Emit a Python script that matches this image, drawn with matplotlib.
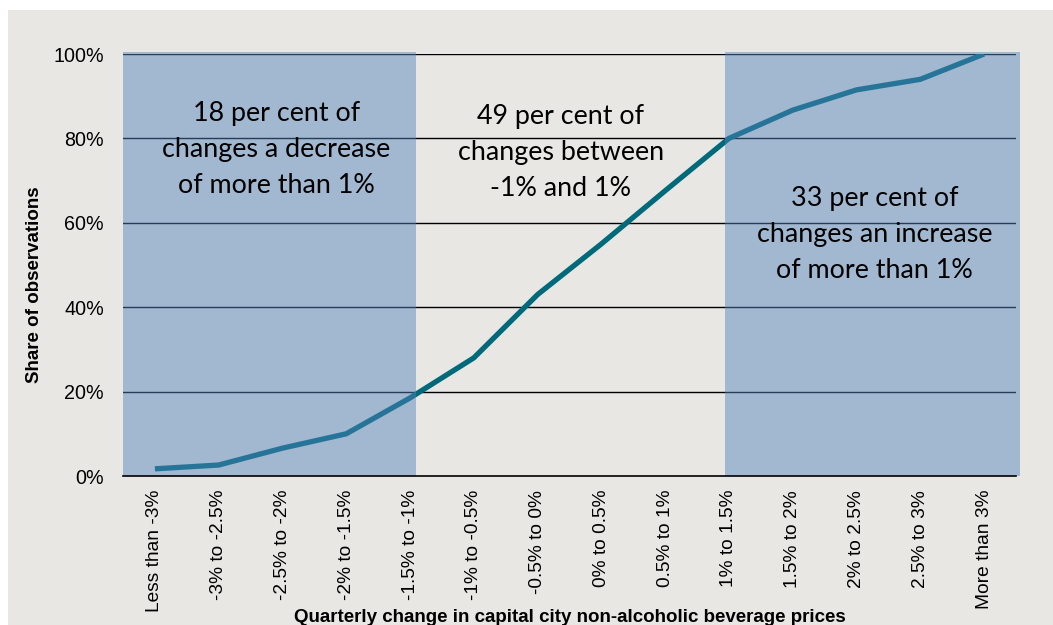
import matplotlib
matplotlib.use("Agg")
import matplotlib.pyplot as plt
from matplotlib.patches import Rectangle
from matplotlib.ticker import PercentFormatter

categories = ["Less than -3%", "-3% to -2.5%", "-2.5% to -2%", "-2% to -1.5%",
              "-1.5% to -1%", "-1% to -0.5%", "-0.5% to 0%", "0% to 0.5%",
              "0.5% to 1%", "1% to 1.5%", "1.5% to 2%", "2% to 2.5%",
              "2.5% to 3%", "More than 3%"]
share = [1.7, 2.6, 6.6, 10.0, 18.5, 28.0, 43.0, 55.0, 67.6, 80.0, 86.7, 91.5, 94.0, 100.0]
yticks = [0, 20, 40, 60, 80, 100]
annotations = [
    "18 per cent of\nchanges a decrease\nof more than 1%",
    "49 per cent of\nchanges between\n-1% and 1%",
    "33 per cent of\nchanges an increase\nof more than 1%",
]

BG = "#E8E7E3"
LINE = "#00697A"
SHADE = "#5383BB"

fig = plt.figure(figsize=(10.53, 6.25), dpi=100)
fig.patch.set_facecolor("white")
fig.patches.append(Rectangle((8 / 1053, 0), 1, 1 - 10 / 625, transform=fig.transFigure,
                             facecolor=BG, edgecolor="none", zorder=-10))

ax = fig.add_axes([123 / 1053, 1 - 476 / 625, (1016 - 123) / 1053, (476 - 54) / 625])
ax.set_facecolor(BG)
x = list(range(len(categories)))
ax.set_xlim(-0.5, len(categories) - 0.5)
ax.set_ylim(0, 100)

for yv in yticks[1:]:
    ax.axhline(yv, color="black", lw=1.0, zorder=1)

ax.plot(x, share, color=LINE, lw=3.8, solid_capstyle="butt", zorder=2)

# shaded regions (drawn on top with transparency)
ax.add_patch(Rectangle((-0.5, 0), 4.59, 100.4, facecolor=SHADE, alpha=0.47,
                       edgecolor="none", zorder=3, clip_on=False))
ax.add_patch(Rectangle((8.94, 0), 13.56 - 8.94, 100.4, facecolor=SHADE, alpha=0.47,
                       edgecolor="none", zorder=3, clip_on=False))

for s in ["top", "left", "right"]:
    ax.spines[s].set_visible(False)
ax.spines["bottom"].set_color("black")
ax.spines["bottom"].set_linewidth(1.2)
ax.spines["bottom"].set_zorder(4)

ax.set_xticks(x)
ax.set_xticklabels(categories, rotation=90, fontsize=13.8, family="Liberation Sans")
ax.set_yticks(yticks)
ax.yaxis.set_major_formatter(PercentFormatter(decimals=0))
for lbl in ax.get_yticklabels():
    lbl.set_fontsize(14.2)
    lbl.set_family("Liberation Sans")
ax.tick_params(axis="both", length=0)
ax.tick_params(axis="y", pad=13.7)
ax.tick_params(axis="x", pad=10)

ax.set_ylabel("Share of observations", fontsize=13.5, fontweight="bold", family="Liberation Sans")
ax.yaxis.set_label_coords(-0.0896, 0.4526)
ax.set_xlabel("Quarterly change in capital city non-alcoholic beverage prices",
              fontsize=13.5, fontweight="bold", family="Liberation Sans")
ax.xaxis.set_label_coords(0.5, -0.315)

tx = [1.905, 6.36, 11.28]
ty = [67.0, 66.3, 47.0]
for t, xx, yy in zip(annotations, tx, ty):
    ax.text(xx, yy, t, ha="center", va="baseline", fontsize=19.4, family="Lato",
            linespacing=1.545, zorder=5, color="black", multialignment="center")

fig.savefig("out.png", dpi=100, facecolor=fig.get_facecolor())
